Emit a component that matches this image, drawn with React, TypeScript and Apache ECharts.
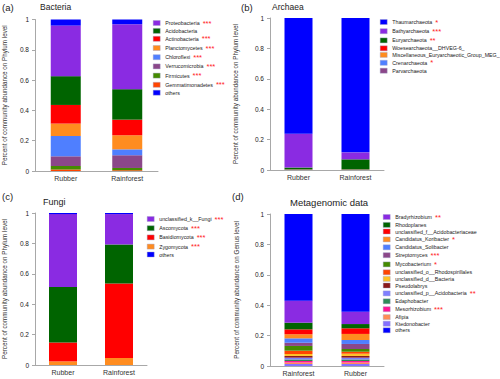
import React, { useEffect, useRef } from "react";
import * as echarts from "echarts";

// ---------- data (stack order: bottom -> top) ----------
const bactCats = ["Rubber", "Rainforest"];
const bactNames = ["Gemmatimonadetes", "Firmicutes", "Verrucomicrobia", "Chloroflexi", "Planctomycetes", "Actinobacteria", "Acidobacteria", "Proteobacteria", "others"];
const bactRubber = [0.010, 0.023, 0.064, 0.134, 0.082, 0.123, 0.190, 0.334, 0.040];
const bactRainforest = [0.005, 0.015, 0.084, 0.039, 0.093, 0.103, 0.201, 0.429, 0.031];

const archCats = ["Rubber", "Rainforest"];
const archNames = ["Parvarchaeota", "Crenarchaeota", "Miscellaneous_Euryarchaeotic_Group_MEG_", "Woesearchaeota__DHVEG-6_", "Euryarchaeota", "Bathyarchaeota", "Thaumarchaeota"];
const archRubber = [0.001, 0.001, 0.001, 0.001, 0.012, 0.222, 0.762];
const archRainforest = [0.001, 0.001, 0.001, 0.001, 0.066, 0.046, 0.884];

const fungCats = ["Rubber", "Rainforest"];
const fungNames = ["Zygomycota", "Basidiomycota", "Ascomycota", "unclassified_k__Fungi", "others"];
const fungRubber = [0.024, 0.124, 0.365, 0.480, 0.007];
const fungRainforest = [0.046, 0.491, 0.256, 0.200, 0.007];

const metaCats = ["Rainforest", "Rubber"];
const metaNames = ["Ktedonobacter", "Afipia", "Mesorhizobium", "Edaphobacter", "unclassified_p__Acidobacteria", "Pseudolabrys", "unclassified_d__Bacteria", "unclassified_o__Rhodospirillales", "Mycobacterium", "Streptomyces", "Candidatus_Solibacter", "Candidatus_Koribacter", "unclassified_f__Acidobacteriaceae", "Rhodoplanes", "Bradyrhizobium", "others"];
const metaRainforest = [0.013, 0.010, 0.010, 0.010, 0.012, 0.011, 0.013, 0.022, 0.031, 0.021, 0.029, 0.027, 0.032, 0.044, 0.145, 0.570];
const metaRubber = [0.013, 0.010, 0.010, 0.010, 0.012, 0.011, 0.015, 0.013, 0.018, 0.033, 0.026, 0.040, 0.037, 0.028, 0.081, 0.643];

const stars: Record<string, string> = {
  Proteobacteria: "***", Actinobacteria: "***", Planctomycetes: "***", Chloroflexi: "***",
  Verrucomicrobia: "***", Firmicutes: "***", Gemmatimonadetes: "***",
  Thaumarchaeota: "*", Bathyarchaeota: "***", Euryarchaeota: "**", Crenarchaeota: "*",
  unclassified_k__Fungi: "***", Ascomycota: "***", Basidiomycota: "***", Zygomycota: "***",
  Bradyrhizobium: "**", Candidatus_Koribacter: "*", Streptomyces: "***", Mycobacterium: "*",
  unclassified_p__Acidobacteria: "**", Mesorhizobium: "***",
};

const yTicks = [0, 0.2, 0.4, 0.6, 0.8, 1];

// ---------- styles ----------
const colors: Record<string, string> = {
  Proteobacteria: "#8A2BE2", Acidobacteria: "#006400", Actinobacteria: "#FF0000", Planctomycetes: "#FF8C1F",
  Chloroflexi: "#4F7FFF", Verrucomicrobia: "#8B4789", Firmicutes: "#458B00", Gemmatimonadetes: "#FF4500", others: "#0000FF",
  Thaumarchaeota: "#0000FF", Bathyarchaeota: "#8A2BE2", Euryarchaeota: "#006400", "Woesearchaeota__DHVEG-6_": "#FF0000",
  Miscellaneous_Euryarchaeotic_Group_MEG_: "#FF8C1F", Crenarchaeota: "#4F7FFF", Parvarchaeota: "#8B4789",
  unclassified_k__Fungi: "#8A2BE2", Ascomycota: "#006400", Basidiomycota: "#FF0000", Zygomycota: "#FF8C1F",
  Bradyrhizobium: "#8A2BE2", Rhodoplanes: "#006400", unclassified_f__Acidobacteriaceae: "#FF0000",
  Candidatus_Koribacter: "#FF8C1F", Candidatus_Solibacter: "#4F7FFF", Streptomyces: "#8B4789", Mycobacterium: "#458B00",
  unclassified_o__Rhodospirillales: "#FF4500", unclassified_d__Bacteria: "#FFC125", Pseudolabrys: "#8B1A1A",
  unclassified_p__Acidobacteria: "#7F7FFF", Edaphobacter: "#2E8B57", Mesorhizobium: "#FF1493", Afipia: "#FF8C55",
  Ktedonobacter: "#8470FF",
};

const FONT = "Liberation Sans, Arial, sans-serif";

type Panel = {
  cats: string[]; names: string[]; v1: number[]; v2: number[];
  grid: { left: number; top: number; width: number; height: number };
  barWidth: number; yName: string; nameGap: number;
  legend: { left: number; top: number };
};

const panels: Panel[] = [
  { cats: bactCats, names: bactNames, v1: bactRubber, v2: bactRainforest,
    grid: { left: 35, top: 19.5, width: 123, height: 151.5 }, barWidth: 30,
    yName: "Percent of community abundance on Phylum level", nameGap: 28, legend: { left: 153, top: 19 } },
  { cats: archCats, names: archNames, v1: archRubber, v2: archRainforest,
    grid: { left: 270, top: 18, width: 114, height: 152 }, barWidth: 28,
    yName: "Percent of community abundance on Phylum level", nameGap: 32, legend: { left: 380, top: 18 } },
  { cats: fungCats, names: fungNames, v1: fungRubber, v2: fungRainforest,
    grid: { left: 33, top: 213, width: 114, height: 152 }, barWidth: 28,
    yName: "Percent of community abundance on Phylum level", nameGap: 28, legend: { left: 147, top: 215 } },
  { cats: metaCats, names: metaNames, v1: metaRainforest, v2: metaRubber,
    grid: { left: 270, top: 214, width: 114, height: 152 }, barWidth: 28,
    yName: "Percent of community abundance on Genus level", nameGap: 31, legend: { left: 383, top: 213 } },
];

function legendOrder(names: string[]): string[] {
  if (names[names.length - 1] === "others") {
    return names.slice(0, -1).reverse().concat("others");
  }
  return names.slice().reverse();
}

export default function App() {
  const ref = useRef<HTMLDivElement>(null);
  useEffect(() => {
    if (!ref.current) return;
    const chart = echarts.init(ref.current, undefined, { renderer: "svg" });
    const axisColor = "#a8a8a8";
    const option: any = {
      animation: false,
      backgroundColor: "#ffffff",
      textStyle: { fontFamily: FONT },
      grid: panels.map((p) => ({ ...p.grid, containLabel: false })),
      xAxis: panels.map((p, i) => ({
        type: "category", gridIndex: i, data: p.cats,
        axisLine: { lineStyle: { color: axisColor } },
        axisTick: { length: 3, lineStyle: { color: axisColor } },
        axisLabel: { fontSize: 7, color: "#333", margin: 4, fontFamily: FONT },
      })),
      yAxis: panels.map((p, i) => ({
        type: "value", gridIndex: i, min: 0, max: 1, interval: 0.2,
        name: p.yName, nameLocation: "middle", nameGap: p.nameGap,
        nameTextStyle: { fontSize: 6.3, color: "#333", fontFamily: FONT },
        axisLine: { show: true, lineStyle: { color: axisColor } },
        axisTick: { show: true, length: 3, lineStyle: { color: axisColor } },
        splitLine: { show: false },
        axisLabel: { fontSize: 6.5, color: "#222", margin: 6, fontFamily: FONT,
          formatter: (v: number) => (yTicks.indexOf(Math.round(v * 10) / 10) >= 0 ? String(Math.round(v * 10) / 10) : "") },
      })),
      legend: panels.map((p) => ({
        orient: "vertical", left: p.legend.left, top: p.legend.top,
        data: legendOrder(p.names), selectedMode: false,
        icon: "rect", itemWidth: 7, itemHeight: 5, itemGap: 1.2,
        padding: 0,
        itemStyle: { borderColor: "#a0a0c8", borderWidth: 0.4 },
        formatter: (name: string) => (stars[name] ? `{n|${name}}{s|${stars[name]}}` : `{n|${name}}`),
        textStyle: { fontSize: 5.3, lineHeight: 5, color: "#222", fontFamily: FONT,
          rich: {
            n: { fontSize: 5.3, lineHeight: 5, color: "#222", fontFamily: FONT },
            s: { color: "#ff2020", fontSize: 7.5, lineHeight: 5, fontFamily: FONT, padding: [0, 0, 0, 3] },
          } },
      })),
      series: panels.flatMap((p, i) =>
        p.names.map((n, j) => ({
          type: "bar", name: n, stack: "s" + i, xAxisIndex: i, yAxisIndex: i,
          barWidth: p.barWidth, data: [p.v1[j], p.v2[j]],
          itemStyle: { color: colors[n] },
          emphasis: { disabled: true },
        }))
      ),
      graphic: [
        { type: "text", left: 2, top: 2, style: { text: "(a)", fontSize: 9.5, fill: "#222", fontFamily: FONT } },
        { type: "text", left: 40, top: 2, style: { text: "Bacteria", fontSize: 8.5, fill: "#222", fontFamily: FONT } },
        { type: "text", left: 241, top: 2, style: { text: "(b)", fontSize: 9.5, fill: "#222", fontFamily: FONT } },
        { type: "text", left: 272, top: 2, style: { text: "Archaea", fontSize: 8.5, fill: "#222", fontFamily: FONT } },
        { type: "text", left: 2, top: 191, style: { text: "(c)", fontSize: 9.5, fill: "#222", fontFamily: FONT } },
        { type: "text", left: 43, top: 197, style: { text: "Fungi", fontSize: 9, fill: "#222", fontFamily: FONT } },
        { type: "text", left: 232, top: 191, style: { text: "(d)", fontSize: 9.5, fill: "#222", fontFamily: FONT } },
        { type: "text", left: 290, top: 197, style: { text: "Metagenomic data", fontSize: 9.5, fill: "#222", fontFamily: FONT } },
      ],
    };
    chart.setOption(option);
    return () => chart.dispose();
  }, []);
  return (
    <div
      ref={ref}
      style={{ position: "fixed", left: 0, top: 0, width: 500, height: 379, background: "#fff" }}
    />
  );
}
